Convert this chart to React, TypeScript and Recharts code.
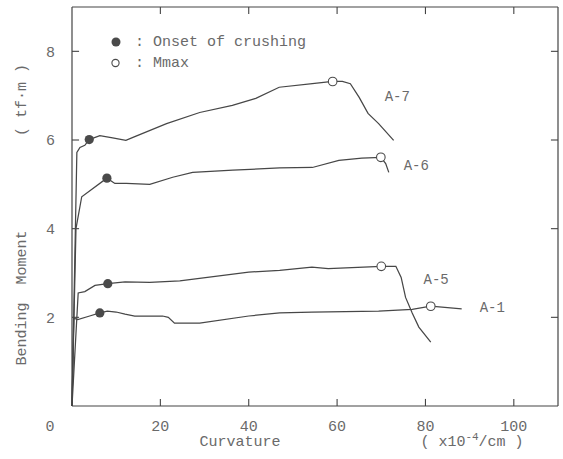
import React from 'react';
import { ComposedChart, Line, Scatter, XAxis, YAxis, ReferenceDot, ReferenceLine, Legend } from 'recharts';

// Curvature (x10^-4/cm) vs Bending Moment (tf·m)
const curveA1: [number, number][] = [
  [0, 0], [0.4, 1.98], [1.3, 1.95], [4, 2.03], [6.3, 2.1], [8, 2.14], [10, 2.12], [12, 2.07],
  [14.2, 2.03], [20.5, 2.03], [21.8, 2.0], [23.2, 1.87], [28.9, 1.87], [40, 2.03], [47, 2.1],
  [54.3, 2.12], [69.4, 2.14], [77, 2.18], [81.2, 2.25], [88.2, 2.19],
];
const curveA5: [number, number][] = [
  [0, 0], [1.4, 2.55], [2.9, 2.58], [5.2, 2.72], [8.1, 2.76], [12, 2.8], [17.6, 2.79], [24.4, 2.82],
  [40, 3.02], [47, 3.06], [54.3, 3.13], [58, 3.1], [70, 3.15], [73.3, 3.15], [74.5, 2.9],
  [75.5, 2.45], [77, 2.1], [78.5, 1.78], [81.2, 1.44],
];
const curveA6: [number, number][] = [
  [0, 0], [0.9, 4.0], [2.2, 4.72], [7.9, 5.14], [9.7, 5.02], [12.3, 5.02], [17.6, 5.0], [22.8, 5.16],
  [27.3, 5.27], [36.4, 5.32], [47, 5.37], [54.4, 5.38], [60.4, 5.54], [65.6, 5.59], [69.9, 5.61],
  [71, 5.47], [71.7, 5.27],
];
const curveA7: [number, number][] = [
  [0, 0], [1.1, 5.72], [1.8, 5.83], [2.9, 5.88], [3.9, 6.01], [6.3, 6.1], [9.2, 6.05], [12.2, 5.99],
  [13.8, 6.06], [21.4, 6.37], [28.9, 6.62], [36.3, 6.78], [41.6, 6.94], [46.9, 7.19], [54.4, 7.27],
  [59, 7.32], [61.2, 7.32], [63, 7.27], [65, 6.96], [67, 6.6], [69.4, 6.37], [72.8, 5.99],
];
const crushingPoints: [number, number][] = [[3.9, 6.01], [7.9, 5.14], [8.1, 2.76], [6.3, 2.1]];
const mmaxPoints: [number, number][] = [[59, 7.32], [69.9, 5.61], [70, 3.15], [81.2, 2.25]];
const curveNames = ['A-7', 'A-6', 'A-5', 'A-1'];
const curveLabelAt: [number, number][] = [[71, 6.94], [75.3, 5.38], [79.8, 2.815], [92.5, 2.18]];
const xTicks = [0, 20, 40, 60, 80, 100];
const xTicksInner = [20, 40, 60, 80, 100];
const yTicks = [2, 4, 6, 8];

const X_MAX = 110;
const Y_MAX = 9;
const TICK_DX = 1.6; // inward tick length in curvature units
const TICK_DY = 0.16; // inward tick length in moment units

const toPts = (arr: [number, number][]) => arr.map(([x, y]) => ({ x, y }));
const series = [curveA7, curveA6, curveA5, curveA1].map(toPts);

const FONT = '"Liberation Mono", "DejaVu Sans Mono", monospace';
const TEXT = '#6a6a6a';
const LINE = '#474747';
const TICK_COLOR = '#444';
const AXIS = { stroke: '#444', strokeWidth: 1.2 };

const BottomTick = (props: any) => {
  const { x, y, payload } = props;
  const dx = payload.value === 0 ? -22 : 0;
  return (
    <text x={x + dx} y={y + 14} dy="0.71em" textAnchor="middle" fill={TEXT} fontSize={15} fontFamily={FONT}>
      {payload.value}
    </text>
  );
};

const LeftTick = (props: any) => {
  const { x, y, payload } = props;
  return (
    <text x={x - 17} y={y} dy="0.355em" textAnchor="end" fill={TEXT} fontSize={15} fontFamily={FONT}>
      {payload.value}
    </text>
  );
};

// Legend overlay: legend entries plus the axis titles.
const LegendContent = () => (
  <svg width={563} height={459} style={{ display: 'block', pointerEvents: 'none' }}>
    <g fontFamily={FONT} fill={TEXT} fontSize={15}>
      <circle cx={116} cy={42} r={4.5} fill="#4a4a4a" />
      <text x={135} y={42} dominantBaseline="central" xmlSpace="preserve">: Onset of crushing</text>
      <circle cx={115.5} cy={63} r={3.6} fill="none" stroke="#4a4a4a" strokeWidth={1.1} />
      <text x={135} y={63} dominantBaseline="central" xmlSpace="preserve">: Mmax</text>
      <text x={240} y={446} textAnchor="middle">Curvature</text>
      <text x={472} y={446} textAnchor="middle">
        ( x10<tspan dy={-6} fontSize={11}>-4</tspan><tspan dy={6}>/cm )</tspan>
      </text>
      <text x={22} y={298} textAnchor="middle" dominantBaseline="central" transform="rotate(-90 22 298)" xmlSpace="preserve">
        Bending  Moment
      </text>
      <text x={22} y={100} textAnchor="middle" dominantBaseline="central" transform="rotate(-90 22 100)" xmlSpace="preserve">
        ( tf·m )
      </text>
    </g>
  </svg>
);

const CurveLabel = (name: string) => (props: any) => {
  const vb = props.viewBox || { x: 0, y: 0 };
  return (
    <text x={vb.x} y={vb.y} dominantBaseline="central" textAnchor="start" fill={TEXT} fontSize={14} fontFamily={FONT}>
      {name}
    </text>
  );
};

export default function App() {
  return (
    <div style={{ position: 'absolute', left: 0, top: 0, background: '#fff' }}>
      <ComposedChart width={563} height={459} margin={{ top: 6, right: 4, bottom: 52, left: 71 }}>
        <XAxis
          dataKey="x"
          type="number"
          domain={[0, X_MAX]}
          ticks={xTicks}
          interval={0}
          height={1}
          tickSize={0}
          tickMargin={0}
          tick={<BottomTick />}
          tickLine={false}
          axisLine={AXIS}
        />
        <XAxis
          xAxisId="top"
          dataKey="x"
          orientation="top"
          type="number"
          domain={[0, X_MAX]}
          ticks={xTicksInner}
          height={1}
          tick={false}
          tickLine={false}
          axisLine={AXIS}
        />
        <YAxis
          dataKey="y"
          type="number"
          domain={[0, Y_MAX]}
          ticks={yTicks}
          interval={0}
          width={1}
          tickSize={0}
          tickMargin={0}
          tick={<LeftTick />}
          tickLine={false}
          axisLine={AXIS}
        />
        <YAxis
          yAxisId="right"
          dataKey="y"
          orientation="right"
          type="number"
          domain={[0, Y_MAX]}
          ticks={yTicks}
          width={1}
          tick={false}
          tickLine={false}
          axisLine={AXIS}
        />
        <Legend
          layout="vertical"
          align="center"
          verticalAlign="middle"
          content={<LegendContent />}
          wrapperStyle={{ position: 'absolute', left: 0, top: 0, width: 563, height: 459, pointerEvents: 'none' }}
        />
        {xTicksInner.map((v) => (
          <ReferenceLine key={`xb${v}`} segment={[{ x: v, y: 0 }, { x: v, y: TICK_DY }]} stroke={TICK_COLOR} strokeWidth={1.1} />
        ))}
        {xTicksInner.map((v) => (
          <ReferenceLine key={`xt${v}`} segment={[{ x: v, y: Y_MAX }, { x: v, y: Y_MAX - TICK_DY }]} stroke={TICK_COLOR} strokeWidth={1.1} />
        ))}
        {yTicks.map((v) => (
          <ReferenceLine key={`yl${v}`} segment={[{ x: 0, y: v }, { x: TICK_DX, y: v }]} stroke={TICK_COLOR} strokeWidth={1.1} />
        ))}
        {yTicks.map((v) => (
          <ReferenceLine key={`yr${v}`} segment={[{ x: X_MAX, y: v }, { x: X_MAX - TICK_DX, y: v }]} stroke={TICK_COLOR} strokeWidth={1.1} />
        ))}
        {series.map((d, i) => (
          <Line
            key={curveNames[i]}
            data={d}
            dataKey="y"
            type="linear"
            stroke={LINE}
            strokeWidth={1.25}
            dot={false}
            activeDot={false}
            isAnimationActive={false}
            legendType="none"
          />
        ))}
        <Scatter
          data={toPts(crushingPoints)}
          isAnimationActive={false}
          legendType="none"
          shape={(p: any) => <circle cx={p.cx} cy={p.cy} r={4.6} fill="#4a4a4a" />}
        />
        <Scatter
          xAxisId="top"
          yAxisId="right"
          data={toPts(mmaxPoints)}
          isAnimationActive={false}
          legendType="none"
          shape={(p: any) => <circle cx={p.cx} cy={p.cy} r={4.3} fill="#fff" stroke="#4a4a4a" strokeWidth={1.1} />}
        />
        {curveLabelAt.map(([x, y], i) => (
          <ReferenceDot
            key={curveNames[i]}
            x={x}
            y={y}
            r={1}
            fill="none"
            stroke="none"
            label={{ content: CurveLabel(curveNames[i]) } as any}
          />
        ))}
      </ComposedChart>
    </div>
  );
}
